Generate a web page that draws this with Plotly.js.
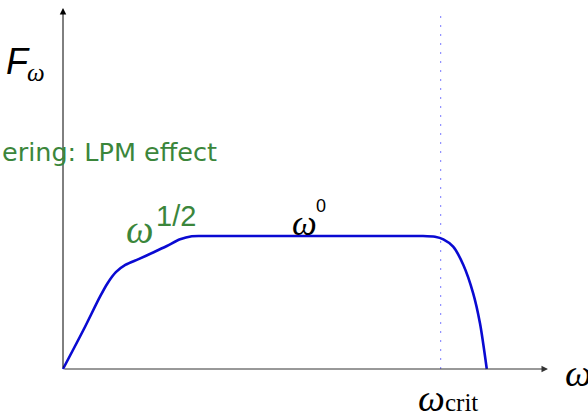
<!DOCTYPE html>
<html>
<head>
<meta charset="utf-8">
<script src="https://cdn.plot.ly/plotly-3.0.1.min.js"></script>
<style>html,body{margin:0;padding:0;background:#fff;} #chart{width:588px;height:416px;}</style>
</head>
<body>
<div id="chart"></div>
<script>
// Spectrum shape F_omega vs omega (omega in units of omega_crit, F in units of plateau)
const omega = [0, 0.054, 0.098, 0.118, 0.140, 0.165, 0.200, 0.240, 0.275, 0.310, 0.341, 0.370, 0.45, 0.55, 0.65, 0.75, 0.85, 0.91, 0.950, 0.985, 1.007, 1.033, 1.060, 1.086, 1.104, 1.122];
const F     = [0, 0.293, 0.544, 0.645, 0.728, 0.782, 0.826, 0.878, 0.925, 0.975, 0.998, 1.000, 1.00, 1.00, 1.00, 1.00, 1.00, 1.00, 1.000, 0.994, 0.975, 0.920, 0.782, 0.569, 0.344, 0.000];
const omegaCrit = 1.0;
const xAxisEnd = 1.284;
const yAxisEnd = 2.714;
const critLineTop = 2.69;

const W = 588, H = 416;
const X0 = 63, Y0 = 369, PX = 377.7, PY = 133;
const xr = [-X0 / PX, (W - X0) / PX];
const yr = [-(H - Y0) / PY, Y0 / PY];
const px = v => v / W;
const py = v => 1 - v / H;

const green = '#3b863b';
const serifI = 'Liberation Serif';
const sans = 'Liberation Sans';

function lab(text, x, y, font, size, color, xa, ya) {
  return {text: text, xref: 'paper', yref: 'paper', x: px(x), y: py(y),
          xanchor: xa || 'center', yanchor: ya || 'middle', showarrow: false,
          font: {family: font, size: size, color: color || '#000'}};
}

const annotations = [
  // axes with arrowheads
  {x: xAxisEnd, y: 0, ax: 0, ay: 0, xref: 'x', yref: 'y', axref: 'x', ayref: 'y', text: '',
   showarrow: true, arrowhead: 2, arrowsize: 1.3, arrowwidth: 1, arrowcolor: '#333'},
  {x: 0, y: yAxisEnd, ax: 0, ay: 0, xref: 'x', yref: 'y', axref: 'x', ayref: 'y', text: '',
   showarrow: true, arrowhead: 2, arrowsize: 1.3, arrowwidth: 1, arrowcolor: '#000'},
  lab('<i>F</i>', 18, 61, sans, 36),
  lab('<i>ω</i>', 36, 73, serifI, 25),
  lab('ering: LPM effect', 0, 152, 'DejaVu Sans', 25.5, green, 'left'),
  lab('<i>ω</i>', 140, 229, serifI, 39, green),
  lab('1/2', 176, 216, sans, 29, green),
  lab('<i>ω</i>', 304, 223, serifI, 35),
  lab('0', 321, 206, sans, 18),
  lab('<i>ω</i>', 431, 398, serifI, 38),
  lab('crit', 443, 402, serifI, 25, '#000', 'left'),
  lab('<i>ω</i>', 563, 373, serifI, 38, '#000', 'left')
];

const data = [{
  x: omega, y: F, type: 'scatter', mode: 'lines',
  line: {color: '#0a0ad2', width: 2.6, shape: 'spline', smoothing: 0.8},
  hoverinfo: 'skip'
}];

const ax = {showgrid: false, zeroline: false, showline: false,
            showticklabels: false, ticks: '', fixedrange: true};

const layout = {
  width: W, height: H,
  margin: {l: 0, r: 0, t: 0, b: 0},
  paper_bgcolor: '#fff', plot_bgcolor: '#fff',
  showlegend: false,
  xaxis: Object.assign({}, ax, {range: xr}),
  yaxis: Object.assign({}, ax, {range: yr}),
  shapes: [{type: 'line', xref: 'x', yref: 'y', x0: omegaCrit, x1: omegaCrit, y0: 0, y1: critLineTop,
            line: {color: '#7b7bff', width: 1, dash: '2px,7px'}, layer: 'below'}],
  annotations: annotations
};

Plotly.newPlot('chart', data, layout, {staticPlot: true, displayModeBar: false});
</script>
</body>
</html>
